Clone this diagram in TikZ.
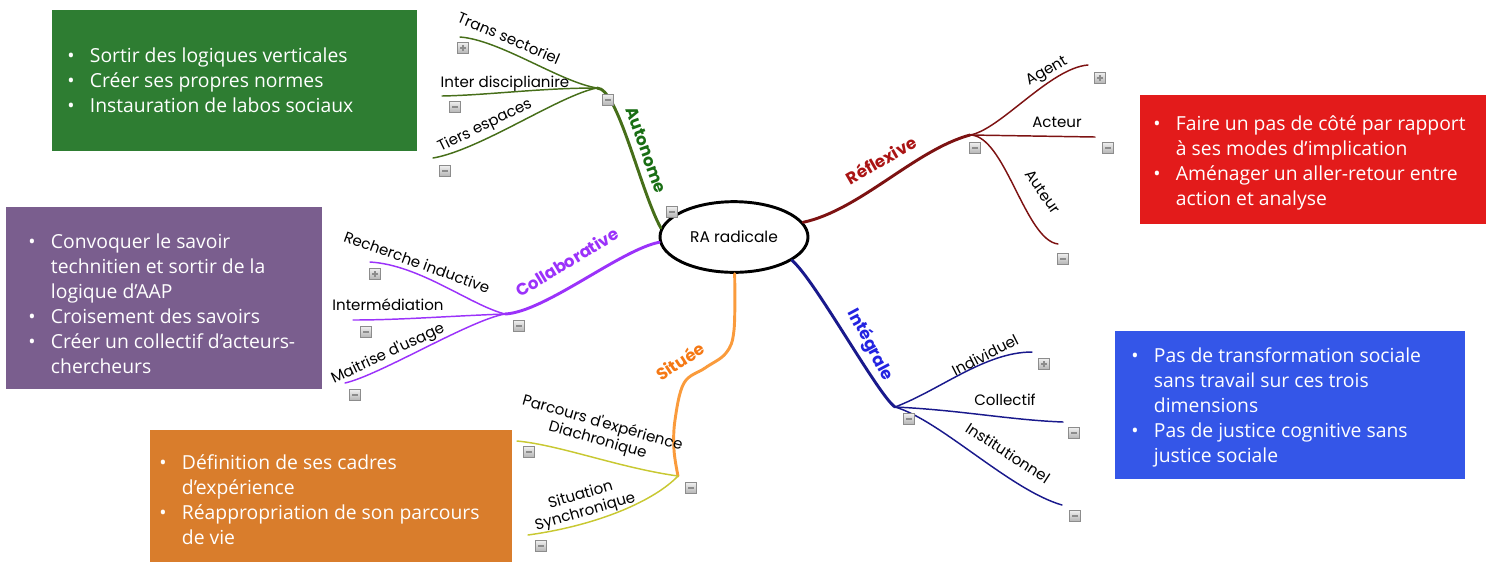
\documentclass[tikz,border=0pt]{standalone}
\usepackage{fontspec}
\setmainfont{Open Sans}
\newfontfamily\mapfont{Poppins}
\usetikzlibrary{shapes.geometric}
\definecolor{gbox}{RGB}{46,125,50}
\definecolor{rbox}{RGB}{227,27,27}
\definecolor{pbox}{RGB}{122,94,142}
\definecolor{bbox}{RGB}{52,86,232}
\definecolor{obox}{RGB}{217,125,44}
\definecolor{cauto}{RGB}{70,110,25}
\definecolor{lauto}{RGB}{25,110,20}
\definecolor{cref}{RGB}{125,18,18}
\definecolor{lref}{RGB}{170,20,20}
\definecolor{ccol}{RGB}{155,50,250}
\definecolor{csit}{RGB}{250,155,60}
\definecolor{lsit}{RGB}{245,120,20}
\definecolor{csub}{RGB}{200,200,50}
\definecolor{cint}{RGB}{25,25,140}
\definecolor{lint}{RGB}{35,35,225}
\newcommand\bitem{\makebox[17pt][l]{•}}
\newcommand\bcont{\hspace*{17pt}}
\tikzset{
  boxtext/.style={anchor=north west, inner sep=0pt, align=left, text=white,
    font=\fontsize{14.5}{18.75}\selectfont},
  mainline/.style={line width=2.2pt, line cap=round},
  subline/.style={line width=1.1pt, line cap=round},
  mainlab/.style={font=\mapfont\bfseries\fontsize{12.5}{14}\selectfont, inner sep=1pt},
  sublab/.style={font=\mapfont\fontsize{11.3}{13}\selectfont, inner sep=1pt, text=black},
  icon/.style={draw=black!45, top color=black!6, bottom color=black!30, minimum size=8.5pt,
    inner sep=0pt, line width=0.5pt, rectangle},
  minusbox/.style={icon, path picture={\draw[line width=1.1pt]
    ([xshift=2pt]path picture bounding box.west) -- ([xshift=-2pt]path picture bounding box.east);}},
  plusbox/.style={icon, path picture={\draw[line width=1.1pt]
    ([xshift=2pt]path picture bounding box.west) -- ([xshift=-2pt]path picture bounding box.east);
    \draw[line width=1.1pt]
    ([yshift=2pt]path picture bounding box.south) -- ([yshift=-2pt]path picture bounding box.north);}},
}
\begin{document}
\begin{tikzpicture}[x=0.75pt,y=-0.75pt]
\useasboundingbox (0,0) rectangle (1494,562);
% ---------- coloured boxes ----------
\fill[gbox] (52,10) rectangle (417,151);
\fill[rbox] (1140,95) rectangle (1486,224);
\fill[pbox] (6,207) rectangle (322,389);
\fill[bbox] (1115,331) rectangle (1465,479);
\fill[obox] (150,430) rectangle (512,562);
\node[boxtext] (tg) at (67,48) {\bitem Sortir des logiques verticales\\\bitem Créer ses propres normes\\\bitem Instauration de labos sociaux};
\node[boxtext] (tr) at (1153,115) {\bitem Faire un pas de côté par rapport\\\bcont à ses modes d’implication\\\bitem Aménager un aller-retour entre\\\bcont action et analyse};
\node[boxtext] (tp) at (28,234) {\bitem Convoquer le savoir\\\bcont technitien et sortir de la\\\bcont logique d’AAP\\\bitem Croisement des savoirs\\\bitem Créer un collectif d’acteurs-\\\bcont chercheurs};
\node[boxtext] (tb) at (1131,347) {\bitem Pas de transformation sociale\\\bcont sans travail sur ces trois\\\bcont dimensions\\\bitem Pas de justice cognitive sans\\\bcont justice sociale};
\node[boxtext] (to) at (159,454) {\bitem Définition de ses cadres\\\bcont d’expérience\\\bitem Réappropriation de son parcours\\\bcont de vie};
% ---------- root ----------
\node[ellipse, draw=black, line width=2.2pt, fill=white, minimum width=111pt, minimum height=53pt,
  font=\mapfont\fontsize{11.6}{13}\selectfont] (root) at (734,237) {RA radicale};
% ---------- hubs and ends ----------
\coordinate (hA) at (597,88);
\coordinate (eTS) at (460,37);
\coordinate (eID) at (442,96);
\coordinate (eTE) at (433,158);
\coordinate (hR) at (970,135);
\coordinate (eAg) at (1088,65);
\coordinate (eAc) at (1095,137);
\coordinate (eAu) at (1058,244);
\coordinate (hC) at (505,314);
\coordinate (eRI) at (370,262);
\coordinate (eIM) at (353,320);
\coordinate (eMU) at (345,383);
\coordinate (hS) at (678,476);
\coordinate (eDi) at (517,441);
\coordinate (eSy) at (528,535);
\coordinate (hI) at (895,407);
\coordinate (eIn) at (1032,352);
\coordinate (eCo) at (1063,422);
\coordinate (eIs) at (1062,505);
% ---------- Autonome ----------
\draw[mainline, cauto] (root.173) .. controls (640,190) and (618,88) .. (hA);
\draw[subline, cauto] (hA) .. controls (560,82) and (500,40) .. (eTS);
\draw[subline, cauto] (hA) .. controls (540,88) and (490,95) .. (eID);
\draw[subline, cauto] (hA) .. controls (560,95) and (480,150) .. (eTE);
\node[mainlab, lauto, rotate=-70] (lA) at (646,150) {Autonome};
\node[sublab, rotate=-23] (lTS) at (509,38) {Trans sectoriel};
\node[sublab] (lID) at (505,84) {Inter disciplianire};
\node[sublab, rotate=26] (lTE) at (485,126) {Tiers espaces};
% ---------- Reflexive ----------
\draw[mainline, cref] (root.12) .. controls (860,210) and (915,150) .. (hR);
\draw[subline, cref] (hR) .. controls (1000,130) and (1050,68) .. (eAg);
\draw[subline, cref] (hR) -- (eAc);
\draw[subline, cref] (hR) .. controls (1005,135) and (1025,240) .. (eAu);
\node[mainlab, lref, rotate=30] (lR) at (881,160) {Réflexive};
\node[sublab, rotate=30] (lAg) at (1047,72) {Agent};
\node[sublab] (lAc) at (1057,122) {Acteur};
\node[sublab, rotate=-55] (lAu) at (1043,192) {Auteur};
% ---------- Collaborative ----------
\draw[mainline, ccol] (root.184) .. controls (620,250) and (545,312) .. (hC);
\draw[subline, ccol] (hC) .. controls (470,305) and (420,265) .. (eRI);
\draw[subline, ccol] (hC) .. controls (450,316) and (400,320) .. (eIM);
\draw[subline, ccol] (hC) .. controls (470,320) and (380,375) .. (eMU);
\node[mainlab, ccol, rotate=31] (lC) at (567,262) {Collaborative};
\node[sublab, rotate=-20] (lRI) at (417,262) {Recherche inductive};
\node[sublab] (lIM) at (388,305) {Intermédiation};
\node[sublab, rotate=25] (lMU) at (388,354) {Maitrise d'usage};
% ---------- Situee ----------
\draw[mainline, csit] plot[smooth, tension=0.6] coordinates
  {(root.-89) (734,330) (726,353) (705,368) (684,383) (675,420) (674,450) (hS)};
\draw[subline, csub] (hS) .. controls (620,468) and (560,445) .. (eDi);
\draw[subline, csub] (hS) .. controls (655,500) and (600,525) .. (eSy);
\node[mainlab, lsit, rotate=33] (lS) at (680,361) {Située};
\node[sublab, rotate=-16, align=center] (lDi) at (600,432) {Parcours d'expérience\\Diachronique};
\node[sublab, rotate=16, align=center] (lSy) at (583,504) {Situation\\Synchronique};
% ---------- Integrale ----------
\draw[mainline, cint] (root.-22) .. controls (815,280) and (878,395) .. (hI);
\draw[subline, cint] (hI) .. controls (940,390) and (985,352) .. (eIn);
\draw[subline, cint] (hI) .. controls (960,410) and (1010,420) .. (eCo);
\draw[subline, cint] (hI) .. controls (940,420) and (1010,490) .. (eIs);
\node[mainlab, lint, rotate=-62] (lI) at (870,345) {Intégrale};
\node[sublab, rotate=27] (lIn) at (985,355) {Individuel};
\node[sublab] (lCo) at (1005,400) {Collectif};
\node[sublab, rotate=-33] (lIs) at (1008,453) {Institutionnel};
% ---------- icons ----------
\node[minusbox] (m0) at (672,212) {};
\node[minusbox] (mA) at (608,100) {};
\node[plusbox]  (pTS) at (463,48) {};
\node[minusbox] (mID) at (455,107) {};
\node[minusbox] (mTE) at (445,171) {};
\node[minusbox] (mR) at (975,148) {};
\node[plusbox]  (pAg) at (1100,78) {};
\node[minusbox] (mAc) at (1108,148) {};
\node[minusbox] (mAu) at (1063,259) {};
\node[minusbox] (mC) at (519,326) {};
\node[plusbox]  (pRI) at (375,274) {};
\node[minusbox] (mIM) at (366,332) {};
\node[minusbox] (mMU) at (355,395) {};
\node[minusbox] (mS) at (691,488) {};
\node[minusbox] (mDi) at (529,452) {};
\node[minusbox] (mSy) at (541,546) {};
\node[minusbox] (mI) at (909,419) {};
\node[plusbox]  (pIn) at (1044,364) {};
\node[minusbox] (mCo) at (1074,433) {};
\node[minusbox] (mIs) at (1075,516) {};
\end{tikzpicture}
\end{document}
